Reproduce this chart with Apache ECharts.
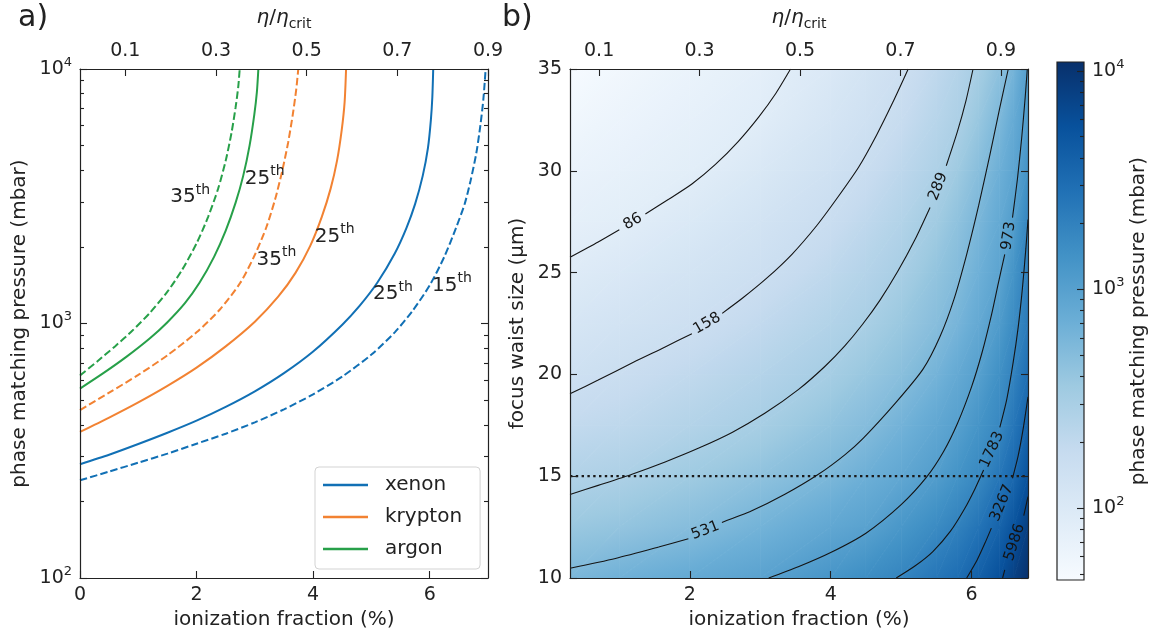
<!DOCTYPE html>
<html>
<head>
<meta charset="utf-8">
<script src="https://cdn.jsdelivr.net/npm/echarts@6/dist/echarts.min.js"></script>
<style>
  html, body { margin: 0; padding: 0; background: #ffffff; }
  #chart { width: 1158px; height: 637px; }
</style>
</head>
<body>
<div id="chart"></div>
<script>
// ---------- panel a: phase-matching pressure vs ionization fraction ----------
// [ionization fraction (%), pressure (mbar)]
const xenon25 = [[0,280],[0.5,305],[1,336],[1.5,372],[2,415],[2.5,470],[3,541],[3.5,638],[4,776],[4.5,989],[4.8,1175],[5.1,1445],[5.4,1884],[5.6,2371],[5.75,2951],[5.88,3802],[5.97,4898],[6.02,6310],[6.045,7762],[6.06,10000]];
const xenon15 = [[0,242],[0.5,262],[1,284],[1.5,308],[2,337],[2.5,369],[3,409],[3.5,460],[4,527],[4.5,619],[5,755],[5.4,923],[5.7,1117],[6,1413],[6.25,1828],[6.45,2371],[6.6,2951],[6.7,3631],[6.8,4677],[6.87,6026],[6.92,7586],[6.96,10000]];
const krypton25 = [[0,375],[0.5,427],[1,490],[1.5,569],[2,671],[2.5,813],[3,1016],[3.4,1274],[3.7,1585],[3.95,2018],[4.15,2630],[4.3,3388],[4.41,4365],[4.49,5754],[4.54,7413],[4.565,10000]];
const krypton35 = [[0,457],[0.5,535],[1,628],[1.5,750],[2,923],[2.4,1135],[2.75,1445],[3,1862],[3.2,2399],[3.35,3090],[3.47,3981],[3.57,5129],[3.65,6607],[3.71,8318],[3.745,10000]];
const argon25 = [[0,555],[0.4,638],[0.8,741],[1.2,875],[1.5,1012],[1.8,1202],[2.05,1445],[2.3,1828],[2.5,2317],[2.67,2985],[2.8,3802],[2.91,5012],[2.99,6607],[3.035,8128],[3.06,10000]];
const argon35 = [[0,625],[0.3,711],[0.6,813],[0.9,938],[1.2,1102],[1.5,1334],[1.75,1622],[2,2065],[2.2,2630],[2.37,3388],[2.5,4365],[2.6,5623],[2.67,7079],[2.715,8511],[2.74,10000]];

const gasColors = { xenon: '#1170b5', krypton: '#f28232', argon: '#27a049' };

// harmonic order tags next to the curves
const harmonicTags = [
  { order: '35', x: 1.89, p: 3133 },
  { order: '25', x: 3.17, p: 3715 },
  { order: '35', x: 3.37, p: 1786 },
  { order: '25', x: 4.37, p: 2198 },
  { order: '25', x: 5.37, p: 1306 },
  { order: '15', x: 6.38, p: 1409 }
];

const etaTicks = [0.1, 0.3, 0.5, 0.7, 0.9];
const pressureMinor = [200,300,400,500,600,700,800,900,2000,3000,4000,5000,6000,7000,8000,9000];

// ---------- panel b: pressure map over ionization fraction and focus waist ----------
const heatX = [0.3, 1, 2, 3, 4, 4.5, 5, 5.5, 5.8, 6.1, 6.4, 6.6, 6.8];
const heatW = [10, 12.5, 15, 17.5, 20, 22.5, 25, 27.5, 30, 32.5, 35];
// pressure (mbar), one row per waist size in heatW, one column per fraction in heatX
const pressureGrid = [
  [578, 671, 800, 953, 1306, 1542, 1859, 2518, 3020, 4000, 5700, 7800, 10700],
  [382, 416, 500, 641, 847, 973, 1256, 1630, 2000, 2660, 3750, 5300, 8100],
  [261, 283, 354, 444, 578, 701, 849, 1091, 1368, 1718, 2535, 3410, 5350],
  [192, 210, 252, 313, 433, 508, 647, 845, 1010, 1337, 1762, 2530, 3760],
  [146, 163, 201, 248, 321, 393, 480, 640, 801, 1021, 1480, 1972, 2950],
  [117, 130, 152, 197, 258, 299, 385, 494, 614, 811, 1150, 1610, 2290],
  [93, 105, 127, 153, 210, 250, 305, 424, 516, 687, 925, 1365, 2060],
  [77, 83, 103, 130, 168, 207, 256, 345, 444, 586, 816, 1084, 1870],
  [66, 72, 83, 107, 142, 168, 215, 277, 359, 489, 701, 902, 1384],
  [56, 63, 74, 87, 121, 143, 177, 237, 282, 392, 568, 790, 1120],
  [48, 55, 66, 79, 105, 126, 152, 205, 250, 318, 458, 640, 1050]
];

// iso-pressure lines, [fraction, waist]; null leaves room for the level tag
const contour86 = [[0.3,25.75],[0.7,26.5],[1.0,27.1],null,[1.37,27.88],[1.7,28.6],[2.03,29.35],[2.36,30.3],[2.69,31.45],[2.98,32.65],[3.22,33.8],[3.43,35]];
const contour158 = [[0.3,19.05],[0.7,19.72],[1.2,20.6],[1.65,21.35],[2.03,22.0],null,[2.46,23.0],[2.75,23.75],[3.1,24.75],[3.45,25.9],[3.8,27.3],[4.1,28.7],[4.4,30.2],[4.65,31.75],[4.88,33.35],[5.1,35]];
const contour289 = [[0.3,14.1],[0.7,14.55],[1.18,15.1],[1.65,15.7],[2.12,16.37],[2.6,17.15],[3.07,18.1],[3.54,19.25],[3.92,20.4],[4.2,21.4],[4.45,22.45],[4.7,23.65],[4.95,25.05],[5.2,26.65],[5.41,28.2],null,[5.64,30.25],[5.8,31.95],[5.92,33.45],[6.02,35]];
const contour531 = [[0.3,10.48],[0.945,10.96],[1.558,11.52],[1.98,11.93],null,[2.456,12.73],[2.88,13.3],[3.35,14.11],[3.82,15.08],[4.2,16.05],[4.46,16.86],[4.93,18.64],[5.31,20.26],[5.55,21.85],[5.75,23.7],[5.93,25.9],[6.1,28.3],[6.26,30.8],[6.4,33.1],[6.52,35]];
const contour973 = [[3.12,10],[3.54,10.55],[4.0,11.25],[4.5,12.2],[5.0,13.6],[5.36,14.95],[5.6,16.2],[5.8,17.6],[6.0,19.4],[6.15,21.1],[6.28,22.9],[6.38,24.5],[6.47,25.9],null,[6.58,27.7],[6.65,29.6],[6.71,31.6],[6.76,33.6],[6.79,35]];
const contour1783 = [[4.93,10],[5.2,10.6],[5.45,11.3],[5.7,12.3],[5.9,13.4],[6.05,14.4],[6.17,15.3],null,[6.4,17.4],[6.5,18.8],[6.59,20.6],[6.66,22.3],[6.72,24.2],[6.77,26.2],[6.8,27.6]];
const contour3267 = [[5.93,10],[6.08,10.9],[6.2,11.8],[6.28,12.45],null,[6.58,14.9],[6.66,16.0],[6.73,17.3],[6.8,18.9]];
const contour5986 = [[6.44,10],[6.47,10.4],null,[6.74,13.06],[6.8,14]];

const contourLines = [contour86, contour158, contour289, contour531, contour973, contour1783, contour3267, contour5986];
const contourTags = [
  { level: 86, x: 1.19, w: 27.5, angle: 30 },
  { level: 158, x: 2.245, w: 22.5, angle: 30 },
  { level: 289, x: 5.525, w: 29.23, angle: 68 },
  { level: 531, x: 2.22, w: 12.33, angle: 21 },
  { level: 973, x: 6.525, w: 26.8, angle: 81 },
  { level: 1783, x: 6.29, w: 16.3, angle: 65 },
  { level: 3267, x: 6.43, w: 13.68, angle: 67 },
  { level: 5986, x: 6.61, w: 11.75, angle: 72 }
];

const waistCut = 15;           // dotted reference waist (µm)
const fractionRange = [0.3, 6.8];
const etaRangeB = [0.042, 0.954];
const barMin = 46.9, barMax = 10985;
const barMajor = [100, 1000, 10000];
const barMinor = [50,60,70,80,90,200,300,400,500,600,700,800,900,2000,3000,4000,5000,6000,7000,8000,9000];

// ---------- styling helpers ----------
const FONT = 'DejaVu Sans';
const INK = '#222222';
const BLUES = ['#f7fbff','#deebf7','#c6dbef','#9ecae1','#6baed6','#4292c6','#2171b5','#08519c','#08306b'];

function hexRgb(h) { return [parseInt(h.slice(1,3),16), parseInt(h.slice(3,5),16), parseInt(h.slice(5,7),16)]; }
const BLUES_RGB = BLUES.map(hexRgb);
function blues(t) {
  t = Math.max(0, Math.min(1, t));
  const s = t * 8, k = Math.min(7, Math.floor(s)), f = s - k;
  const a = BLUES_RGB[k], b = BLUES_RGB[k + 1];
  return 'rgb(' + a.map((v, i) => Math.round(v + (b[i] - v) * f)).join(',') + ')';
}
const LMIN = Math.log10(barMin), LMAX = Math.log10(barMax);
function norm(p) { return (Math.log10(p) - LMIN) / (LMAX - LMIN); }

// shade one triangle of the map with the colour ramp running along its value gradient
function shadeTriangle(a, b, c) {
  const e1x = b.x - a.x, e1y = b.y - a.y, e2x = c.x - a.x, e2y = c.y - a.y;
  const d1 = b.t - a.t, d2 = c.t - a.t;
  const det = e1x * e2y - e1y * e2x;
  const lo = Math.min(a.t, b.t, c.t), hi = Math.max(a.t, b.t, c.t);
  let fill;
  if (Math.abs(det) < 1e-9 || hi - lo < 1e-6) {
    fill = blues((lo + hi) / 2);
  } else {
    const gx = (d1 * e2y - d2 * e1y) / det, gy = (e1x * d2 - e2x * d1) / det;
    const g2 = gx * gx + gy * gy;
    const sx = a.x + (lo - a.t) * gx / g2, sy = a.y + (lo - a.t) * gy / g2;
    const ex = a.x + (hi - a.t) * gx / g2, ey = a.y + (hi - a.t) * gy / g2;
    const stops = [{ offset: 0, color: blues(lo) }];
    for (let k = 1; k < 8; k++) {
      const kt = k / 8;
      if (kt > lo && kt < hi) stops.push({ offset: (kt - lo) / (hi - lo), color: BLUES[k] });
    }
    stops.push({ offset: 1, color: blues(hi) });
    fill = new echarts.graphic.LinearGradient(sx, sy, ex, ey, stops, true);
  }
  return { type: 'polygon', shape: { points: [[a.x, a.y], [b.x, b.y], [c.x, c.y]] },
           style: { fill: fill, stroke: fill, lineWidth: 0.8 } };
}

function renderMapCell(params, api) {
  const j = api.value(2), i = api.value(3);
  const corner = (jj, ii) => {
    const pt = api.coord([heatX[jj], heatW[ii]]);
    return { x: pt[0], y: pt[1], t: norm(pressureGrid[ii][jj]) };
  };
  const a = corner(j, i), b = corner(j + 1, i), c = corner(j + 1, i + 1), d = corner(j, i + 1);
  return { type: 'group', children: [shadeTriangle(a, b, c), shadeTriangle(a, c, d)] };
}

function renderColorBar(params, api) {
  const p0 = api.coord([0, barMax]), p1 = api.coord([1, barMin]);
  const stops = BLUES.slice().reverse().map((c, k) => ({ offset: k / 8, color: c }));
  return { type: 'rect', shape: { x: p0[0], y: p0[1], width: p1[0] - p0[0], height: p1[1] - p0[1] },
           style: { fill: new echarts.graphic.LinearGradient(0, 0, 0, 1, stops), stroke: INK, lineWidth: 1.2 } };
}

const mapCells = [];
for (let i = 0; i < heatW.length - 1; i++) {
  for (let j = 0; j < heatX.length - 1; j++) {
    mapCells.push([(heatX[j] + heatX[j + 1]) / 2, (heatW[i] + heatW[i + 1]) / 2, j, i]);
  }
}

const axisText = { color: INK, fontFamily: FONT, fontSize: 19 };
const titleText = { color: INK, fontFamily: FONT, fontSize: 20 };
const lineSt = { color: INK, width: 1.2 };
const tickSt = { color: INK, width: 1.1 };
const supRich = { sup: { color: INK, fontFamily: FONT, fontSize: 13, lineHeight: 13, verticalAlign: 'top' } };
const etaName = '{i|η}/{i|η}{sub|crit}';
const etaNameStyle = Object.assign({}, titleText, { lineHeight: 26, rich: {
  i: { color: INK, fontFamily: FONT, fontSize: 20, fontStyle: 'italic', lineHeight: 26 },
  sub: { color: INK, fontFamily: FONT, fontSize: 14, lineHeight: 14, verticalAlign: 'bottom' }
} });
const powLabel = v => '10{sup|' + Math.round(Math.log10(v)) + '}';

function frameAxis(o) {
  return Object.assign({
    z: 5,
    splitLine: { show: false },
    axisLine: { show: true, onZero: false, lineStyle: lineSt },
    axisTick: { show: true, inside: true, length: 7, lineStyle: tickSt },
    axisLabel: { show: false }
  }, o);
}
function minorAxis(o, values) {
  return Object.assign({
    z: 5,
    splitLine: { show: false },
    axisLine: { show: false, onZero: false },
    axisTick: { show: true, inside: true, length: 4, lineStyle: tickSt, customValues: values },
    axisLabel: { show: false }
  }, o);
}

function curve(name, data, color, dashed) {
  return {
    type: 'line', name: name, xAxisIndex: 0, yAxisIndex: 0, data: data,
    symbol: 'none', smooth: 0.25, z: 3,
    lineStyle: { color: color, width: 2, type: dashed ? [7.4, 3.2] : 'solid' },
    itemStyle: { color: color }
  };
}

const contourSeries = contourLines.map((pts, k) => ({
  type: 'line', name: 'p' + contourTags[k].level, xAxisIndex: 2, yAxisIndex: 4,
  data: pts.map(p => p === null ? '-' : p),
  symbol: 'none', smooth: 0.25, connectNulls: false, z: 3,
  lineStyle: { color: '#141414', width: 1.1 }
}));

const option = {
  animation: false,
  backgroundColor: '#ffffff',
  textStyle: { fontFamily: FONT },
  graphic: [
    { type: 'text', left: 18, top: 3, style: { text: 'a)', font: '30px "DejaVu Sans"', fill: INK } },
    { type: 'text', left: 502, top: 3, style: { text: 'b)', font: '30px "DejaVu Sans"', fill: INK } }
  ],
  grid: [
    { left: 80, top: 62, width: 408, height: 516 },
    { left: 570, top: 63, width: 458, height: 515 },
    { left: 1057, top: 62, width: 27, height: 518 }
  ],
  legend: {
    data: ['xenon', 'krypton', 'argon'], orient: 'vertical', left: 315, top: 467,
    icon: 'rect', itemWidth: 45, itemHeight: 2.5, itemGap: 10, padding: [7, 18, 9, 8],
    backgroundColor: '#ffffff', borderColor: '#d3d3d3', borderWidth: 1, borderRadius: 4,
    selectedMode: false, z: 10,
    textStyle: { color: INK, fontFamily: FONT, fontSize: 20, lineHeight: 22, padding: [0, 0, 0, 12] }
  },
  xAxis: [
    frameAxis({ type: 'value', gridIndex: 0, position: 'bottom', min: 0, max: 7,
      axisTick: { show: true, inside: true, length: 7, lineStyle: tickSt, customValues: [0, 2, 4, 6] },
      axisLabel: Object.assign({ show: true, margin: 8, customValues: [0, 2, 4, 6] }, axisText),
      name: 'ionization fraction (%)', nameLocation: 'middle', nameGap: 32, nameTextStyle: titleText }),
    frameAxis({ type: 'value', gridIndex: 0, position: 'top', min: 0, max: 0.9,
      axisTick: { show: true, inside: true, length: 7, lineStyle: tickSt, customValues: etaTicks },
      axisLabel: Object.assign({ show: true, margin: 8, customValues: etaTicks, formatter: v => v.toFixed(1) }, axisText),
      name: etaName, nameLocation: 'middle', nameGap: 38, nameTextStyle: etaNameStyle }),
    frameAxis({ type: 'value', gridIndex: 1, position: 'bottom', min: fractionRange[0], max: fractionRange[1],
      axisTick: { show: true, inside: true, length: 7, lineStyle: tickSt, customValues: [2, 4, 6] },
      axisLabel: Object.assign({ show: true, margin: 8, customValues: [2, 4, 6] }, axisText),
      name: 'ionization fraction (%)', nameLocation: 'middle', nameGap: 32, nameTextStyle: titleText }),
    frameAxis({ type: 'value', gridIndex: 1, position: 'top', min: etaRangeB[0], max: etaRangeB[1],
      axisTick: { show: true, inside: true, length: 7, lineStyle: tickSt, customValues: etaTicks },
      axisLabel: Object.assign({ show: true, margin: 8, customValues: etaTicks, formatter: v => v.toFixed(1) }, axisText),
      name: etaName, nameLocation: 'middle', nameGap: 38, nameTextStyle: etaNameStyle }),
    { type: 'value', gridIndex: 2, min: 0, max: 1, show: false }
  ],
  yAxis: [
    frameAxis({ type: 'log', logBase: 10, gridIndex: 0, position: 'left', min: 100, max: 10000,
      axisLabel: Object.assign({ show: true, margin: 8, lineHeight: 26, formatter: powLabel, rich: supRich }, axisText),
      name: 'phase matching pressure (mbar)', nameLocation: 'middle', nameRotate: 90, nameGap: 50, nameTextStyle: titleText }),
    minorAxis({ type: 'log', logBase: 10, gridIndex: 0, position: 'left', min: 100, max: 10000 }, pressureMinor),
    frameAxis({ type: 'log', logBase: 10, gridIndex: 0, position: 'right', min: 100, max: 10000 }),
    minorAxis({ type: 'log', logBase: 10, gridIndex: 0, position: 'right', min: 100, max: 10000 }, pressureMinor),
    frameAxis({ type: 'value', gridIndex: 1, position: 'left', min: 10, max: 35, interval: 5,
      axisLabel: Object.assign({ show: true, margin: 8 }, axisText),
      name: 'focus waist size (µm)', nameLocation: 'middle', nameRotate: 90, nameGap: 42, nameTextStyle: titleText }),
    frameAxis({ type: 'value', gridIndex: 1, position: 'right', min: 10, max: 35, interval: 5 }),
    frameAxis({ type: 'log', logBase: 10, gridIndex: 2, position: 'right', min: barMin, max: barMax,
      axisLine: { show: false, onZero: false },
      axisTick: { show: true, inside: true, length: 7, lineStyle: tickSt, customValues: barMajor },
      axisLabel: Object.assign({ show: true, margin: 8, lineHeight: 26, customValues: barMajor, formatter: powLabel, rich: supRich }, axisText),
      name: 'phase matching pressure (mbar)', nameLocation: 'middle', nameRotate: 90, nameGap: 45, nameTextStyle: titleText }),
    minorAxis({ type: 'log', logBase: 10, gridIndex: 2, position: 'right', min: barMin, max: barMax }, barMinor)
  ],
  series: [
    curve('xenon', xenon25, gasColors.xenon, false),
    curve('xenon 15th', xenon15, gasColors.xenon, true),
    curve('krypton', krypton25, gasColors.krypton, false),
    curve('krypton 35th', krypton35, gasColors.krypton, true),
    curve('argon', argon25, gasColors.argon, false),
    curve('argon 35th', argon35, gasColors.argon, true),
    {
      type: 'scatter', name: 'orders', xAxisIndex: 0, yAxisIndex: 0, symbolSize: 0, z: 4, silent: true,
      itemStyle: { opacity: 1 },
      data: harmonicTags.map(t => [t.x, t.p]),
      label: {
        show: true, position: 'inside', color: INK, opacity: 1, textBorderWidth: 0,
        formatter: p => '{n|' + harmonicTags[p.dataIndex].order + '}{s|th}',
        rich: {
          n: { color: INK, fontFamily: FONT, fontSize: 20, lineHeight: 28 },
          s: { color: INK, fontFamily: FONT, fontSize: 14, lineHeight: 14, verticalAlign: 'top' }
        }
      }
    },
    {
      type: 'custom', name: 'map', xAxisIndex: 2, yAxisIndex: 4, data: mapCells,
      encode: { x: 0, y: 1 }, renderItem: renderMapCell, clip: true, silent: true, z: 1
    },
    ...contourSeries,
    {
      type: 'scatter', name: 'levels', xAxisIndex: 2, yAxisIndex: 4, symbolSize: 0, z: 4, silent: true,
      itemStyle: { opacity: 1 },
      data: contourTags.map(t => ({ value: [t.x, t.w], label: { rotate: t.angle } })),
      label: {
        show: true, position: 'inside', color: '#141414', opacity: 1, textBorderWidth: 0, fontFamily: FONT, fontSize: 15,
        formatter: p => String(contourTags[p.dataIndex].level)
      }
    },
    {
      type: 'line', name: 'waist', xAxisIndex: 2, yAxisIndex: 4, symbol: 'none', z: 4, silent: true,
      data: [[fractionRange[0], waistCut], [fractionRange[1], waistCut]],
      lineStyle: { color: '#1a1a1a', width: 2.2, type: [2.4, 3.4] }
    },
    {
      type: 'custom', name: 'colorbar', xAxisIndex: 4, yAxisIndex: 6, data: [[0.5, 1000]],
      encode: { x: 0, y: 1 }, renderItem: renderColorBar, silent: true, z: 1
    }
  ]
};

const chart = echarts.init(document.getElementById('chart'), null, { renderer: 'canvas' });
chart.setOption(option);
</script>
</body>
</html>
